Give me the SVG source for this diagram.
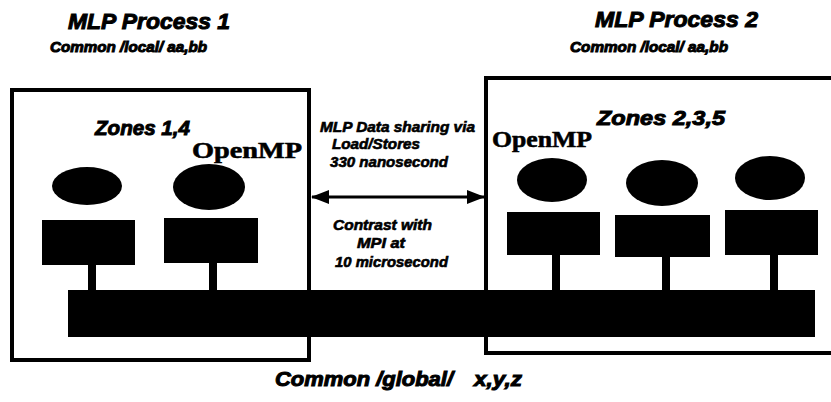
<svg xmlns="http://www.w3.org/2000/svg" width="831" height="402" viewBox="0 0 831 402">
  <style>
    .hdr { font-family: "Liberation Sans", Arial, sans-serif; font-weight: bold; font-style: italic; fill: #000; stroke: #000; stroke-width: 1; }
    .note { font-family: "Liberation Sans", Arial, sans-serif; font-weight: bold; font-style: italic; font-size: 14px; fill: #000; stroke: #000; stroke-width: 0.6; }
    .omp { font-family: "Liberation Serif", "Times New Roman", serif; font-weight: bold; fill: #000; stroke: #000; stroke-width: 0.6; }
    .box { fill: #fff; stroke: #000; stroke-width: 4; }
    .cpu { fill: #000; }
    .stem { stroke: #000; stroke-width: 8; }
  </style>
  <defs>
    <marker id="head" viewBox="0 0 18 14" refX="17" refY="7" markerWidth="18" markerHeight="14" markerUnits="userSpaceOnUse" orient="auto-start-reverse">
      <path d="M0,0 L18,7 L0,14 z" fill="#000"/>
    </marker>
  </defs>
  <rect width="831" height="402" fill="#fff"/>

  <!-- process titles -->
  <g id="title1">
    <text class="hdr" x="68" y="29" font-size="22" textLength="162" lengthAdjust="spacingAndGlyphs">MLP Process 1</text>
    <text class="hdr" x="50" y="52" font-size="15" stroke-width="0.7" textLength="157" lengthAdjust="spacingAndGlyphs">Common /local/ aa,bb</text>
  </g>
  <g id="title2">
    <text class="hdr" x="595" y="27" font-size="22" textLength="163" lengthAdjust="spacingAndGlyphs">MLP Process 2</text>
    <text class="hdr" x="570" y="52" font-size="15" stroke-width="0.7" textLength="158" lengthAdjust="spacingAndGlyphs">Common /local/ aa,bb</text>
  </g>

  <!-- process boxes -->
  <g id="process1">
    <rect class="box" x="12" y="90" width="297" height="270"/>
    <text class="hdr" x="95" y="135" font-size="21" textLength="95" lengthAdjust="spacingAndGlyphs">Zones 1,4</text>
    <text class="omp" x="192" y="158" font-size="24" textLength="110" lengthAdjust="spacingAndGlyphs">OpenMP</text>
  </g>
  <g id="process2">
    <rect class="box" x="486" y="78" width="350" height="275"/>
    <text class="hdr" x="597" y="125" font-size="21" textLength="128" lengthAdjust="spacingAndGlyphs">Zones 2,3,5</text>
    <text class="omp" x="492" y="147" font-size="24" textLength="100" lengthAdjust="spacingAndGlyphs">OpenMP</text>
  </g>

  <!-- shared memory bus -->
  <g id="bus">
    <rect class="cpu" x="68" y="290" width="747" height="47"/>
  </g>

  <!-- processors: ellipse + memory block -->
  <g id="cpu1">
    <ellipse class="cpu" cx="87" cy="186" rx="35" ry="19"/>
    <rect class="cpu" x="42" y="220" width="93" height="45"/>
  </g>
  <g id="cpu4">
    <ellipse class="cpu" cx="209" cy="187" rx="36" ry="23"/>
    <rect class="cpu" x="164" y="218" width="94" height="45"/>
  </g>
  <g id="cpu2">
    <ellipse class="cpu" cx="552" cy="180" rx="35" ry="22"/>
    <rect class="cpu" x="507" y="212" width="93" height="43"/>
  </g>
  <g id="cpu3">
    <ellipse class="cpu" cx="662" cy="183" rx="36" ry="23"/>
    <rect class="cpu" x="615" y="215" width="95" height="42"/>
  </g>
  <g id="cpu5">
    <ellipse class="cpu" cx="770" cy="178" rx="35" ry="22"/>
    <rect class="cpu" x="725" y="210" width="93" height="45"/>
  </g>

  <!-- connectors -->
  <g id="connectors">
    <line class="stem" x1="92" y1="264" x2="92" y2="291"/>
    <line class="stem" x1="213" y1="262" x2="213" y2="291"/>
    <line class="stem" x1="556" y1="254" x2="556" y2="291"/>
    <line class="stem" x1="666" y1="256" x2="666" y2="291"/>
    <line class="stem" x1="774" y1="254" x2="774" y2="291"/>
    <line x1="312" y1="197" x2="484" y2="197" stroke="#000" stroke-width="3" marker-start="url(#head)" marker-end="url(#head)"/>
  </g>

  <!-- link annotations -->
  <g id="link-notes">
    <text class="note" x="320" y="132" textLength="155" lengthAdjust="spacingAndGlyphs">MLP Data sharing via</text>
    <text class="note" x="332" y="149" textLength="88" lengthAdjust="spacingAndGlyphs">Load/Stores</text>
    <text class="note" x="330" y="167" textLength="118" lengthAdjust="spacingAndGlyphs">330 nanosecond</text>
    <text class="note" x="333" y="230" textLength="99" lengthAdjust="spacingAndGlyphs">Contrast with</text>
    <text class="note" x="357" y="248" textLength="48" lengthAdjust="spacingAndGlyphs">MPI at</text>
    <text class="note" x="335" y="267" textLength="113" lengthAdjust="spacingAndGlyphs">10 microsecond</text>
  </g>

  <!-- global common block label -->
  <g id="global">
    <text class="hdr" x="275" y="386" font-size="20" textLength="178" lengthAdjust="spacingAndGlyphs">Common /global/</text>
    <text class="hdr" x="474" y="386" font-size="20" textLength="48" lengthAdjust="spacingAndGlyphs">x,y,z</text>
  </g>
</svg>
